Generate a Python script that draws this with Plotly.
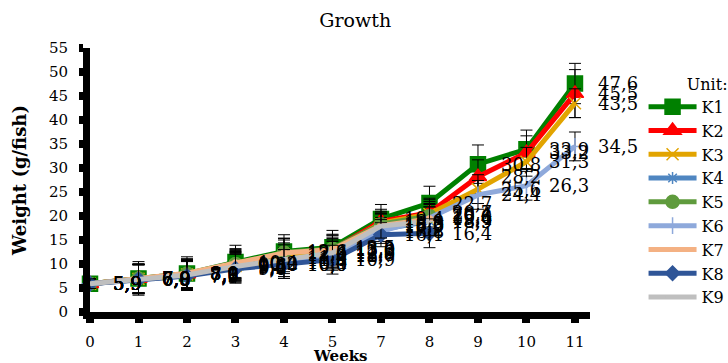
import plotly.graph_objects as go

weeks = ["0", "1", "2", "3", "4", "5", "7", "8", "9", "10", "11"]
series_names = ["K1", "K2", "K3", "K4", "K5", "K6", "K7", "K8", "K9"]

K1 = [5.9, 7.0, 8.0, 10.4, 12.6, 13.5, 19.4, 22.7, 30.8, 33.9, 47.6]
K2 = [5.9, 7.0, 7.9, 9.8, 12.0, 13.0, 18.9, 20.7, 28.2, 33.2, 45.5]
K3 = [5.9, 6.9, 7.8, 9.6, 11.4, 12.6, 18.5, 20.4, 25.6, 31.3, 43.5]
K4 = [5.9, 6.9, 7.7, 9.4, 10.4, 12.0, 17.2, 18.9, None, None, None]
K5 = [5.9, 7.0, 8.0, 10.0, 12.4, 13.2, 18.3, 20.0, None, None, None]
K6 = [5.9, 6.8, 7.6, 9.2, 10.0, 11.7, 16.8, 19.6, 24.4, 26.3, 34.5]
K7 = [5.9, 7.0, 8.1, 10.2, 12.3, 13.0, 18.0, 19.4, None, None, None]
K8 = [5.9, 6.8, 7.5, 9.0, 10.0, 10.9, 16.1, 16.4, None, None, None]
K9 = [5.9, 6.9, 7.7, 9.5, 11.0, 12.3, 17.9, 18.9, None, None, None]

E1 = [1.0, 3.5, 3.5, 3.5, 3.5, 3.5, 3.0, 3.5, 4.0, 4.0, 4.2]
E2 = [1.0, 3.0, 3.0, 3.0, 3.0, 3.0, 2.5, 3.0, 3.5, 3.5, 5.0]
E3 = [1.0, 3.0, 3.0, 3.0, 3.0, 3.0, 2.5, 3.0, 3.0, 3.0, 3.0]
E4 = [1.0, 3.0, 3.0, 3.0, 3.0, 3.0, 2.5, 3.0, None, None, None]
E5 = [1.0, 3.0, 3.0, 3.0, 3.0, 3.0, 2.5, 3.0, None, None, None]
E6 = [1.0, 3.0, 3.0, 3.0, 3.0, 3.0, 2.5, 3.0, 3.0, 3.0, 3.0]
E7 = [1.0, 3.0, 3.0, 3.0, 3.0, 3.0, 2.5, 3.0, None, None, None]
E8 = [1.0, 3.0, 3.0, 3.0, 3.0, 3.0, 2.5, 3.0, None, None, None]
E9 = [1.0, 3.0, 3.0, 3.0, 3.0, 3.0, 2.5, 3.0, None, None, None]

values = [K1, K2, K3, K4, K5, K6, K7, K8, K9]
errors = [E1, E2, E3, E4, E5, E6, E7, E8, E9]

colors = ["#008000", "#FF0000", "#E2A400", "#4F86C1", "#5F9B3D",
          "#8EA9DB", "#F4B183", "#2F5597", "#BFBFBF"]
symbols = ["square", "triangle-up", "x-thin-open", "asterisk-open", "circle",
           "cross-thin-open", "circle", "diamond", "line-ew-open"]
sizes = [15, 15, 12, 10, 13, 12, 0, 11, 10]

FONT = "DejaVu Serif"
xidx = list(range(len(weeks)))

fig = go.Figure()
for name, vals, errs, col, sym, sz in zip(series_names, values, errors, colors, symbols, sizes):
    xs = [x for x, v in zip(xidx, vals) if v is not None]
    ys = [v for v in vals if v is not None]
    es = [e for e, v in zip(errs, vals) if v is not None]
    fig.add_trace(go.Scatter(
        x=xs, y=ys, name=name, mode="lines+markers",
        line=dict(color=col, width=5),
        marker=dict(symbol=sym, size=sz, color=col, line=dict(color=col, width=1.5)),
        error_y=dict(type="data", array=es, visible=True, color="black",
                     thickness=1, width=6),
        cliponaxis=False,
    ))
    for x, y in zip(xs, ys):
        fig.add_annotation(
            x=x, y=y, xref="x", yref="y",
            text=f"{y:.1f}".replace(".", ","),
            showarrow=False, xanchor="left", yanchor="middle",
            xshift=21, font=dict(family=FONT, size=18, color="black"),
        )

# x-axis title placed as a paper annotation
fig.add_annotation(
    text="<b>Weeks</b>", xref="paper", yref="paper", x=0.5, y=-0.168,
    xanchor="center", yanchor="middle", showarrow=False,
    font=dict(family=FONT, size=15, color="black"),
)

fig.update_layout(
    width=728, height=363,
    margin=dict(l=90, r=138, t=48, b=46),
    paper_bgcolor="white", plot_bgcolor="white",
    font=dict(family=FONT, color="black"),
    title=dict(text="Growth", x=0.488, xanchor="center", y=0.962, yanchor="top",
               font=dict(family=FONT, size=19, color="black")),
    showlegend=True,
    legend=dict(
        xref="container", yref="container", x=0.884, y=0.81,
        xanchor="left", yanchor="top", maxheight=320,
        title=dict(text="Unit:", side="top right", font=dict(family=FONT, size=16)),
        font=dict(family=FONT, size=16, color="black"),
        bgcolor="rgba(0,0,0,0)", itemwidth=48, tracegroupgap=0,
    ),
    xaxis=dict(
        tickmode="array", tickvals=xidx, ticktext=weeks,
        range=[0, 10.31], showgrid=False, zeroline=False,
        showline=True, linecolor="black", linewidth=7,
        ticks="outside", tickcolor="black", tickwidth=8, ticklen=4,
        tickfont=dict(family=FONT, size=15, color="black"),
        ticklabelstandoff=6,
    ),
    yaxis=dict(
        range=[0, 55], dtick=5, tick0=0, showgrid=False, zeroline=False,
        showline=True, linecolor="black", linewidth=7,
        ticks="outside", tickcolor="black", tickwidth=8, ticklen=4,
        tickfont=dict(family=FONT, size=15, color="black"),
        ticklabelstandoff=8,
        title=dict(text="<b>Weight (g/fish)</b>", standoff=20,
                   font=dict(family=FONT, size=18, color="black")),
    ),
)

fig.write_html("out.html", config={"displayModeBar": False},
               post_script="document.body.style.margin='0';")
